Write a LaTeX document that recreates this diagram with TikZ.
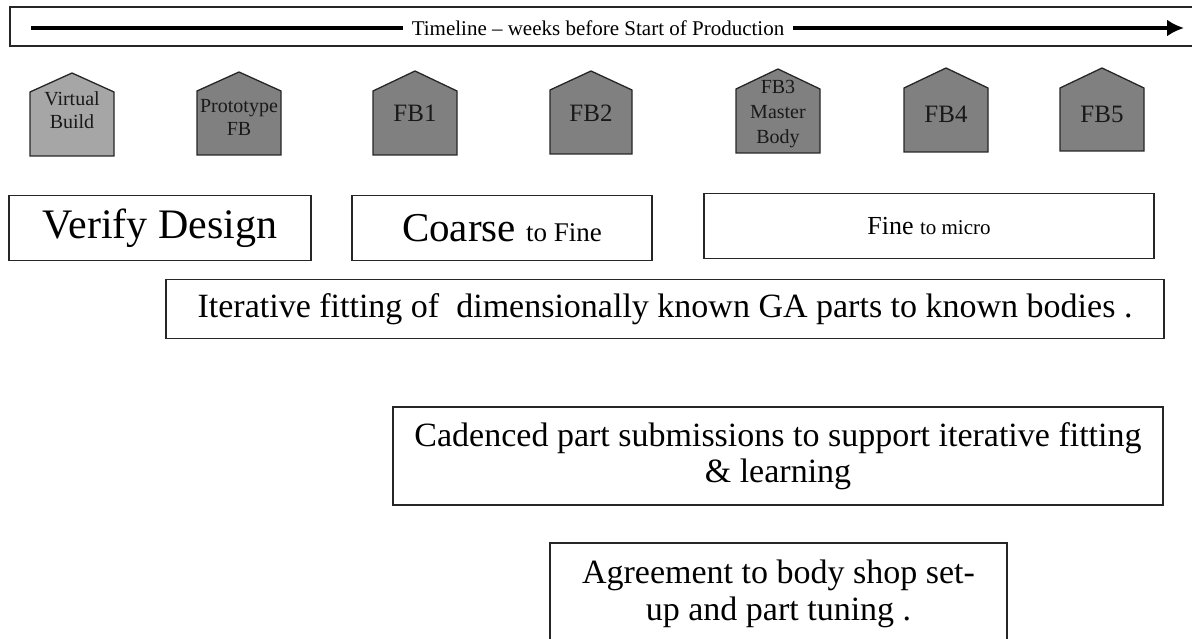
\documentclass[tikz,border=0pt]{standalone}
\usepackage{fontspec}
\setmainfont{Liberation Serif}
\usetikzlibrary{arrows.meta}

\tikzset{
  house/.style={draw=black!85, line width=1.3pt, fill=black!50},
  lighthouse/.style={house, fill=black!35},
  housetext/.style={align=center, inner sep=0pt, text=black!90, font=\fontsize{20}{23}\selectfont},
  fbtext/.style={housetext, font=\fontsize{25}{25}\selectfont},
  phasebox/.style={draw=black!85, line width=1.3pt, inner sep=0pt, align=center},
}

\begin{document}
\begin{tikzpicture}[x=1pt,y=-1pt]
    \useasboundingbox (0,0) rectangle (1192,639);
    % timeline
    \draw[line width=1.3pt, black!85] (10,7) rectangle (1196,46);
    \coordinate (tstart) at (31,28);
    \coordinate (tend) at (1184,28);
    \node[font=\fontsize{21}{21}\selectfont] (tlabel) at (598,28) {Timeline -- weeks before Start of Production};
    \draw[line width=3.2pt] (tstart) -- ([xshift=-5pt]tlabel.west);
    \draw[line width=3.2pt, -{Latex[length=17pt,width=17pt]}] ([xshift=5pt]tlabel.east) -- (tend);
    % builds
    \draw[lighthouse] (30,156) -- (30,92) -- (72,73) -- (114,92) -- (114,156) -- cycle;
    \node[housetext] (vb) at (72,110) {Virtual\\Build};
    \draw[house] (197,155) -- (197,91) -- (239,72) -- (281,91) -- (281,155) -- cycle;
    \node[housetext] (pfb) at (239,117) {Prototype\\FB};
    \draw[house] (373,155) -- (373,91) -- (415,71) -- (457,91) -- (457,155) -- cycle;
    \node[fbtext] (fb1) at (415,113) {FB1};
    \draw[house] (550,154) -- (550,90) -- (591,71) -- (632,90) -- (632,154) -- cycle;
    \node[fbtext] (fb2) at (591,113) {FB2};
    \draw[house] (736,153) -- (736,89) -- (778,69) -- (820,89) -- (820,153) -- cycle;
    \node[housetext, font=\fontsize{20}{25}\selectfont] (fb3) at (778,114) {FB3\\Master\\Body};
    \draw[house] (904,152) -- (904,88) -- (946,68) -- (988,88) -- (988,152) -- cycle;
    \node[fbtext] (fb4) at (946,114) {FB4};
    \draw[house] (1060,151) -- (1060,88) -- (1102,68) -- (1144,88) -- (1144,151) -- cycle;
    \node[fbtext] (fb5) at (1102,114) {FB5};
    % phases
    \node[phasebox, minimum width=302pt, minimum height=65pt, font=\fontsize{42}{42}\selectfont] (verify) at (160,228) {Verify Design};
    \node[phasebox, minimum width=300pt, minimum height=65pt] (coarse) at (502,228) {\fontsize{41}{41}\selectfont Coarse \fontsize{27}{27}\selectfont to Fine};
    \node[phasebox, minimum width=450pt, minimum height=65pt] (fine) at (929,226) {\fontsize{26}{26}\selectfont Fine \fontsize{21}{21}\selectfont to micro};
    % activities
    \node[phasebox, minimum width=998pt, minimum height=59pt, font=\fontsize{34}{34}\selectfont] (fitting) at (665,309) {Iterative fitting of \ dimensionally known GA parts to known bodies .};
    \node[phasebox, minimum width=770pt, minimum height=98pt, font=\fontsize{34}{36}\selectfont] (cadence) at (778,456) {Cadenced part submissions to support iterative fitting\\\& learning};
    \node[phasebox, minimum width=457pt, minimum height=102pt, font=\fontsize{34}{37}\selectfont] (agree) at (778.5,594) {Agreement to body shop set-\\up and part tuning .};
\end{tikzpicture}
\end{document}
